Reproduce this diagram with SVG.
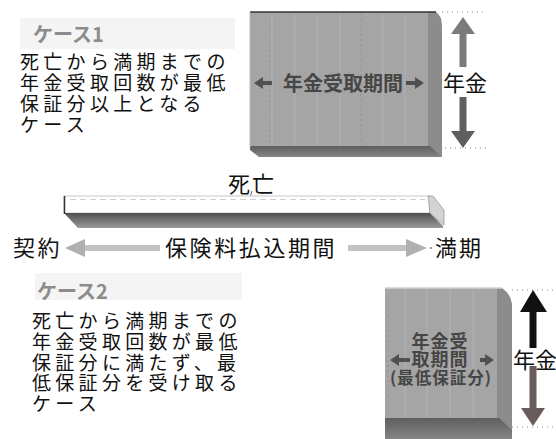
<svg xmlns="http://www.w3.org/2000/svg" width="556" height="439" viewBox="0 0 556 439">
<defs>
<style>
.body{font-family:"Noto Sans CJK JP","Noto Sans CJK SC",sans-serif;font-size:19px;letter-spacing:4.3px;fill:#111}
.case{font-family:"Noto Sans CJK JP",sans-serif;font-size:20px;font-weight:700;fill:#8c8c8c}
.tl{font-family:"Noto Sans CJK JP",sans-serif;font-size:22px;fill:#111}
.boxlbl{font-family:"Noto Sans CJK JP",sans-serif;font-weight:700;fill:#464646}
.face{fill:#a5a5a5}
.side{fill:#8c8c8c}
.bottom{fill:url(#gBottom)}
.stripeA{stroke:#b3b3b3;stroke-width:1}
.stripeB{stroke:#939393;stroke-width:1;stroke-dasharray:2 3}
.dots{stroke:#888;stroke-width:1;stroke-dasharray:1 4;fill:none}
.grey-arrow{fill:#c2c2c2}
.grey-head{fill:#b0b0b0}
.small-arrow{fill:#505050}
</style>
<linearGradient id="gBottom" x1="0" y1="0" x2="0" y2="1">
<stop offset="0" stop-color="#5e5e5e"/>
<stop offset="1" stop-color="#858585"/>
</linearGradient>
<linearGradient id="gBar" x1="0" y1="0" x2="0" y2="1">
<stop offset="0" stop-color="#4f4f4f"/>
<stop offset="1" stop-color="#9a9a9a"/>
</linearGradient>
</defs>
<rect width="556" height="439" fill="#fff"/>

<g id="case1-label">
<rect x="20" y="18" width="215" height="31" fill="#f4f4f4"/>
<text class="case" x="33" y="42">ケース1</text>
</g>
<g id="case1-text">
<text class="body" x="20" y="69">死亡から満期までの</text>
<text class="body" x="20" y="90">年金受取回数が最低</text>
<text class="body" x="20" y="111">保証分以上となる</text>
<text class="body" x="20" y="132">ケース</text>
</g>

<g id="pension-box-1">
<rect class="face" x="250" y="12" width="180" height="138"/>
<g>
<line class="stripeA" x1="272" y1="14" x2="272" y2="147"/>
<line class="stripeA" x1="295" y1="14" x2="295" y2="147"/>
<line class="stripeA" x1="317" y1="14" x2="317" y2="147"/>
<line class="stripeA" x1="340" y1="14" x2="340" y2="147"/>
<line class="stripeA" x1="383" y1="14" x2="383" y2="147"/>
<line class="stripeA" x1="405" y1="14" x2="405" y2="147"/>
<line class="stripeB" x1="270" y1="20" x2="270" y2="145"/>
<line class="stripeB" x1="361" y1="14" x2="361" y2="145"/>
</g>
<path class="side" d="M428,12 L436,12 Q442,16 442,26 L442,157 L430,150 L428,150 Z"/>
<path class="bottom" d="M250,146 L430,146 L442,157 L259,157 L250,150 Z"/>
<line x1="250" y1="12" x2="436" y2="12" stroke="#333" stroke-width="1.5"/>
<line x1="250" y1="12" x2="250" y2="148" stroke="#bdbdbd" stroke-width="1"/>
<polygon class="small-arrow" points="254,83 263,77 263,81 272,81 272,85 263,85 263,89"/>
<polygon class="small-arrow" points="406,81 415,81 415,77 424,83 415,89 415,85 406,85"/>
<text class="boxlbl" x="283" y="90.5" font-size="20">年金受取期間</text>
</g>

<g id="annuity-1">
<line class="dots" x1="442" y1="12" x2="486" y2="12"/>
<line class="dots" x1="440" y1="148" x2="486" y2="148"/>
<polygon fill="#7b7b7b" points="463,17 475,34 466.5,34 466.5,67 459.5,67 459.5,34 451,34"/>
<polygon fill="#5f5f5f" points="459.5,97 466.5,97 466.5,131 475,131 463,148 451,131 459.5,131"/>
<text class="tl" x="443" y="91">年金</text>
</g>

<g id="death-label">
<text class="tl" x="228" y="192" letter-spacing="2">死亡</text>
<line x1="252" y1="191" x2="250.5" y2="196" stroke="#666" stroke-width="1"/>
</g>

<g id="premium-bar">
<rect x="64" y="196" width="366" height="17" fill="#fff" stroke="#c8c8c8" stroke-width="1"/>
<line x1="70" y1="199.5" x2="425" y2="199.5" stroke="#cfcfcf" stroke-width="1" stroke-dasharray="6 4"/>
<path d="M64,213 L430,213 L443,226 L443,228 L78,228 Z" fill="url(#gBar)"/>
<polygon points="428,196 433,196 444,210 444,225 430,213" fill="#d3d3d3" stroke="#9a9a9a" stroke-width="0.8"/>
<line x1="64.5" y1="196" x2="64.5" y2="214" stroke="#333" stroke-width="1.5"/>
</g>

<g id="contract-label">
<text class="tl" x="13" y="255.5" letter-spacing="2.5">契約</text>
</g>
<g id="premium-period-label">
<text class="tl" x="165" y="255.5" letter-spacing="2.6">保険料払込期間</text>
</g>
<g id="maturity-label">
<circle cx="431" cy="248" r="1" fill="#777"/>
<text class="tl" x="435" y="255.5" letter-spacing="2">満期</text>
</g>

<g id="connectors">
<polygon class="grey-head" points="65,248 85,239 85,257"/>
<rect class="grey-arrow" x="85" y="245" width="75" height="6"/>
<rect class="grey-arrow" x="348" y="245" width="58" height="6"/>
<polygon class="grey-head" points="406,239 427,248 406,257"/>
</g>

<g id="case2-label">
<rect x="35" y="273" width="207" height="27" fill="#f4f4f4"/>
<text class="case" x="37" y="299">ケース2</text>
</g>
<g id="case2-text">
<text class="body" x="32" y="328">死亡から満期までの</text>
<text class="body" x="32" y="349">年金受取回数が最低</text>
<text class="body" x="32" y="369.5">保証分に満たず、最</text>
<text class="body" x="32" y="390">低保証分を受け取る</text>
<text class="body" x="32" y="410.5">ケース</text>
</g>

<g id="pension-box-2">
<rect class="face" x="385" y="288" width="114" height="134"/>
<line class="stripeA" x1="405" y1="290" x2="405" y2="418"/>
<line class="stripeA" x1="427" y1="290" x2="427" y2="418"/>
<line class="stripeA" x1="450" y1="290" x2="450" y2="418"/>
<line class="stripeA" x1="473" y1="290" x2="473" y2="418"/>
<line class="stripeB" x1="388" y1="300" x2="388" y2="415"/>
<path class="side" d="M497,288 L502,288 Q511,294 512,304 L512,439 L499,430 L497,430 Z"/>
<path class="bottom" d="M385,418 L499,418 L512,430 L512,439 L385,439 Z"/>
<line x1="385" y1="288" x2="502" y2="288" stroke="#d0d0d0" stroke-width="1.5"/>
<polygon class="small-arrow" points="390,360 399,354 399,358 410,358 410,362 399,362 399,366"/>
<polygon class="small-arrow" points="480,358 485,358 485,354 494,360 485,366 485,362 480,362"/>
<text class="boxlbl" x="440" y="348" font-size="18" text-anchor="middle" letter-spacing="1">年金受</text>
<text class="boxlbl" x="440" y="366" font-size="18" text-anchor="middle" letter-spacing="1">取期間</text>
<text class="boxlbl" x="441" y="384" font-size="16.5" text-anchor="middle" letter-spacing="1" fill="#2e2e2e">(最低保証分)</text>
</g>

<g id="annuity-2">
<line class="dots" x1="512" y1="290" x2="556" y2="290"/>
<line class="dots" x1="512" y1="427" x2="556" y2="427"/>
<polygon fill="#111" points="533,290 547,312 536.5,312 536.5,348 529.5,348 529.5,312 520,312"/>
<polygon fill="#6b5c5c" points="529.5,366 536.5,366 536.5,408 545,408 533,426 521,408 529.5,408"/>
<text class="tl" x="513" y="368">年金</text>
</g>
</svg>
